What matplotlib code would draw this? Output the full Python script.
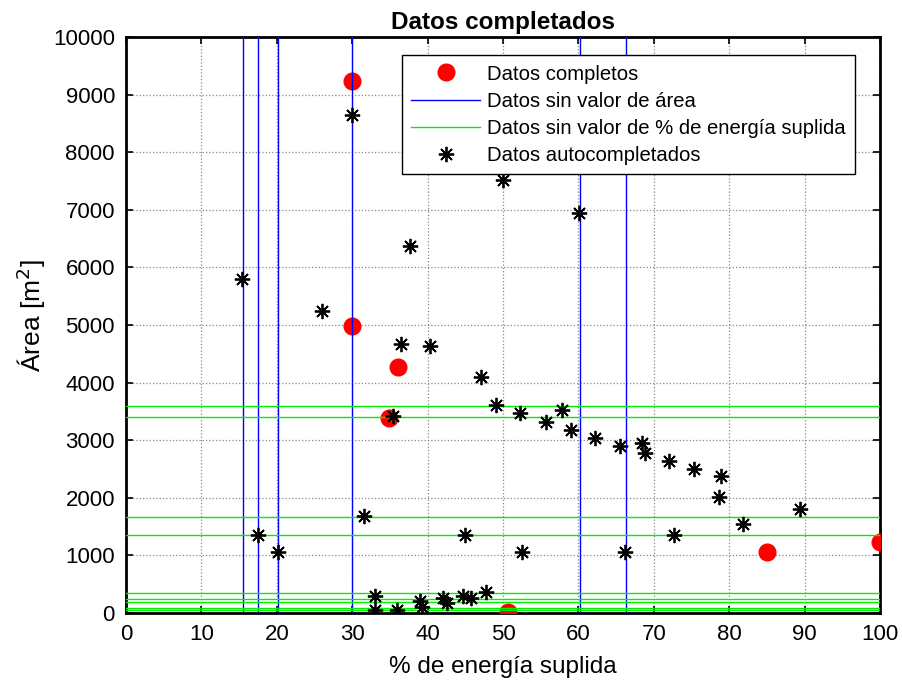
import matplotlib
matplotlib.use("Agg")
import matplotlib.pyplot as plt
import numpy as np

plt.rcParams['font.family'] = ['Liberation Sans', 'DejaVu Sans']

# datos completos (rojo)
x_comp = [30.0, 30.0, 36.1, 34.9, 50.7, 85.0, 100.0]
y_comp = [9236, 4983, 4271, 3385, 10, 1059, 1233]

# datos sin valor de area (lineas verticales azules)
x_sin_area = [15.5, 17.5, 20.2, 30.0, 60.2, 66.3]

# datos sin valor de % de energia (lineas horizontales verdes)
y_sin_energia = [3600, 3410, 1675, 1350, 340, 250, 190, 90, 50]

# datos autocompletados (asteriscos)
x_auto = [15.4, 17.5, 20.1, 26.0, 30.0, 31.6, 33.0, 33.0, 35.4, 35.9, 36.5, 37.7,
          39.0, 39.3, 40.3, 42.0, 42.6, 44.7, 45.0, 45.8, 47.1, 47.7, 49.1, 50.0,
          52.3, 52.5, 55.7, 57.8, 59.0, 60.1, 62.2, 65.5, 66.2, 68.4, 68.8, 72.0,
          72.7, 75.3, 78.9, 78.6, 81.8, 89.4]
y_auto = [5800, 1350, 1060, 5240, 8650, 1680, 300, 50, 3420, 50, 4670, 6370,
          210, 110, 4635, 265, 175, 300, 1350, 265, 4100, 360, 3610, 7520,
          3470, 1060, 3320, 3520, 3180, 6940, 3040, 2900, 1060, 2950, 2780, 2640,
          1350, 2500, 2380, 2015, 1545, 1805]

fig = plt.figure(figsize=(9.02, 6.85), dpi=100)
ax = fig.add_axes([0.1397, 0.1051, 0.8359, 0.8409])

ax.plot(x_comp, y_comp, 'o', color='red', markersize=12, label='Datos completos', zorder=3)
for i, xv in enumerate(x_sin_area):
    ax.axvline(xv, color='blue', lw=1, zorder=4,
               label='Datos sin valor de área' if i == 0 else None)
for i, yv in enumerate(y_sin_energia):
    ax.axhline(yv, color='#00ee00', lw=1, zorder=4,
               label='Datos sin valor de % de energía suplida' if i == 0 else None)
ax.plot(x_auto, y_auto, linestyle='none', marker=(8, 2, 0), color='black',
        markersize=11, markeredgewidth=1.3, label='Datos autocompletados', zorder=5)

ax.set_xlim(0, 100)
ax.set_ylim(0, 10000)
ax.set_xticks(np.arange(0, 101, 10))
ax.set_yticks(np.arange(0, 10001, 1000))
ax.grid(True, linestyle=':', color='#888888', lw=0.9)
ax.tick_params(direction='in', top=True, right=True, length=5, width=1.2,
               labelsize=16, pad=8)
for s in ax.spines.values():
    s.set_linewidth(2)

ax.set_title('Datos completados', fontsize=17.5, fontweight='bold', pad=6)
ax.set_xlabel('% de energía suplida', fontsize=17.5, labelpad=8)
ax.set_ylabel('Área [m$^2$]', fontsize=19, labelpad=6)
ax.yaxis.set_label_coords(-0.103, 0.517)

leg = ax.legend(loc='upper left', bbox_to_anchor=(0.366, 0.968), fontsize=14.6,
                frameon=True, fancybox=False, edgecolor='black', framealpha=1,
                handlelength=3.4, handletextpad=0.35, labelspacing=0.4,
                borderpad=0.45, borderaxespad=0)
leg.get_frame().set_linewidth(1)

fig.savefig('out.png', dpi=100)
